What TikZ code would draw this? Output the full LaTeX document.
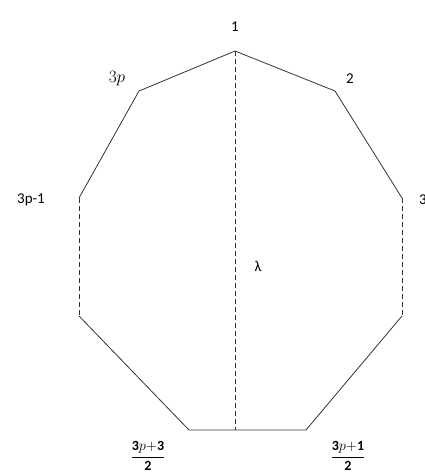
\documentclass[tikz,border=0pt]{standalone}
\usepackage{fontspec}
\setmainfont{Carlito}
\usetikzlibrary{positioning}
\tikzset{
  % solid sides of the polygon
  side/.style={draw=black!80, line width=.8pt, line join=round},
  % sides standing for the omitted vertices
  gap/.style={draw=black!80, line width=.8pt, dash pattern=on 5pt off 3pt},
  vlbl/.style={font=\fontsize{15}{18}\selectfont, inner sep=1pt},
  flbl/.style={font=\fontsize{14}{16}\selectfont, inner sep=1pt},
}

\begin{document}
\begin{tikzpicture}[x=1pt,y=-1pt]
\useasboundingbox (0,0) rectangle (425,475);

% ----- vertices -----
\coordinate (v1)  at (235,51);
\coordinate (v2)  at (335,91);
\coordinate (v3)  at (402,198);
\coordinate (v3d) at (402,316);
\coordinate (vr)  at (306,430);
\coordinate (vl)  at (189,430);
\coordinate (vld) at (79,316);
\coordinate (vm1) at (79,198);
\coordinate (vm)  at (139,91);
\coordinate (vb)  at (235,430);

% ----- labels -----
\node[vlbl] (l1)  at (235,27)  {1};
\node[vlbl] (l2)  at (350,79)  {2};
\node[vlbl,anchor=west] (l3) at (418,200) {3};
\node[vlbl,font=\fontsize{17}{20}\selectfont] (l3p) at (117,79) {$3p$};
\node[vlbl] (l3pm) at (31,200) {3p-1};
\node[vlbl] (lam) at (258,266) {λ};
\node[flbl] (lfl) at (148,456) {$\displaystyle\frac{\mathbf{3}p\mathbf{+3}}{\mathbf{2}}$};
\node[flbl] (lfr) at (348,456) {$\displaystyle\frac{\mathbf{3}p\mathbf{+1}}{\mathbf{2}}$};

% ----- sides -----
\draw[side] (vm1) -- (vm) -- (v1) -- (v2) -- (v3);
\draw[side] (v3d) -- (vr) -- (vl) -- (vld);
\draw[gap] (v3) -- (v3d);
\draw[gap] (vm1) -- (vld);

% diameter
\draw[gap] (v1) -- (vb);

\end{tikzpicture}
\end{document}
